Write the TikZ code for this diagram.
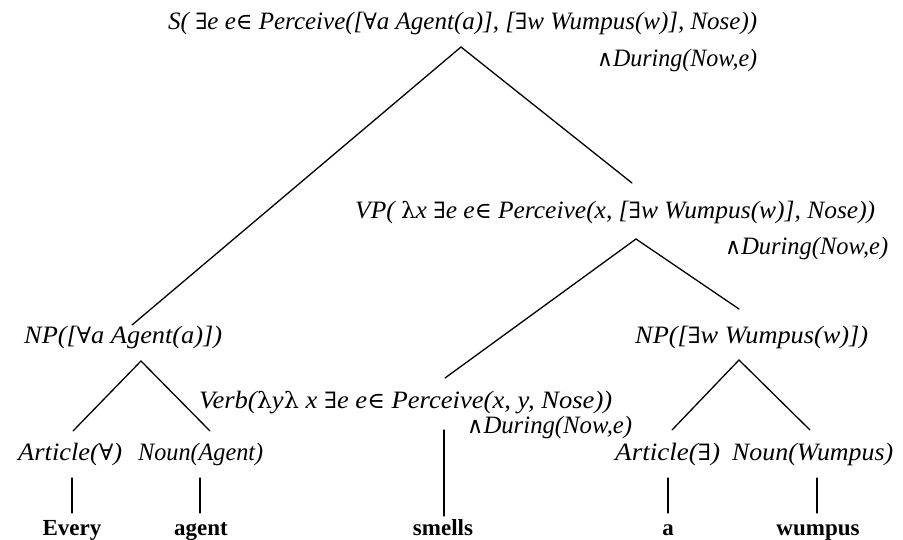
\documentclass[tikz,border=0pt]{standalone}
\usepackage{fontspec}
\usepackage{graphicx}
\setmainfont{Liberation Serif}
\newfontfamily\symf[Scale=0.9]{DejaVu Serif}
\newcommand{\sy}[1]{{\upshape\symf #1}}
\newcommand{\fw}[2]{\resizebox{#1pt}{\height}{#2}}
\begin{document}
\begin{tikzpicture}[x=1pt,y=-1pt,
  lab/.style={inner sep=0pt, anchor=west, font=\itshape\fontsize{25}{27}\selectfont},
  word/.style={inner sep=0pt, anchor=base, font=\bfseries\fontsize{23}{25}\selectfont},
  edge/.style={line width=1.3pt, line cap=round}]
\useasboundingbox (0,0) rectangle (903,539);
\fill[white] (0,0) rectangle (903,539);
% labels
\node[lab] (s1) at (168,23) {\fw{589}{S( \sy{∃}e e\sy{∈} Perceive([\sy{∀}a Agent(a)], [\sy{∃}w Wumpus(w)], Nose))}};
\node[lab] (s2) at (597,60) {\fw{160}{\sy{∧}During(Now,e)}};
\node[lab] (vp1) at (355,212) {\fw{520}{VP( \sy{λ}x \sy{∃}e e\sy{∈} Perceive(x, [\sy{∃}w Wumpus(w)], Nose))}};
\node[lab] (vp2) at (725,248) {\fw{163}{\sy{∧}During(Now,e)}};
\node[lab] (npl) at (24,337) {\fw{198}{NP([\sy{∀}a Agent(a)])}};
\node[lab] (npr) at (635,337) {\fw{233}{NP([\sy{∃}w Wumpus(w)])}};
\node[lab] (vb1) at (199,403) {\fw{413}{Verb(\sy{λ}y\sy{λ} x \sy{∃}e e\sy{∈} Perceive(x, y, Nose))}};
\node[lab] (vb2) at (467,427) {\fw{165}{\sy{∧}During(Now,e)}};
\node[lab] (artl) at (18,454) {\fw{104}{Article(\sy{∀})}};
\node[lab] (nounl) at (138,454) {\fw{125}{Noun(Agent)}};
\node[lab] (artr) at (615,454) {\fw{105}{Article(\sy{∃})}};
\node[lab] (nounr) at (732,454) {\fw{161}{Noun(Wumpus)}};
\node[word] (w1) at (72,535) {Every};
\node[word] (w2) at (201,535) {agent};
\node[word] (w3) at (443,535) {smells};
\node[word] (w4) at (668,535) {a};
\node[word] (w5) at (818,535) {wumpus};
% connector points
\coordinate (sA) at (461,47);
\coordinate (sL) at (132,325);
\coordinate (sR) at (632,183);
\coordinate (vA) at (636,239);
\coordinate (vL) at (445,378);
\coordinate (vR) at (739,309);
\coordinate (nlA) at (141,361);
\coordinate (nlL) at (73,431);
\coordinate (nlR) at (210,431);
\coordinate (nrA) at (739,360);
\coordinate (nrL) at (672,430);
\coordinate (nrR) at (810,430);
\coordinate (t1) at (72,478); \coordinate (b1) at (72,513);
\coordinate (t2) at (200,478); \coordinate (b2) at (200,513);
\coordinate (t3) at (444,430); \coordinate (b3) at (444,516);
\coordinate (t4) at (668,478); \coordinate (b4) at (668,513);
\coordinate (t5) at (817,478); \coordinate (b5) at (817,513);
\draw[edge] (sL) -- (sA) -- (sR);
\draw[edge] (vL) -- (vA) -- (vR);
\draw[edge] (nlL) -- (nlA) -- (nlR);
\draw[edge] (nrL) -- (nrA) -- (nrR);
\draw[edge] (t1) -- (b1);
\draw[edge] (t2) -- (b2);
\draw[edge] (t3) -- (b3);
\draw[edge] (t4) -- (b4);
\draw[edge] (t5) -- (b5);
\end{tikzpicture}
\end{document}
